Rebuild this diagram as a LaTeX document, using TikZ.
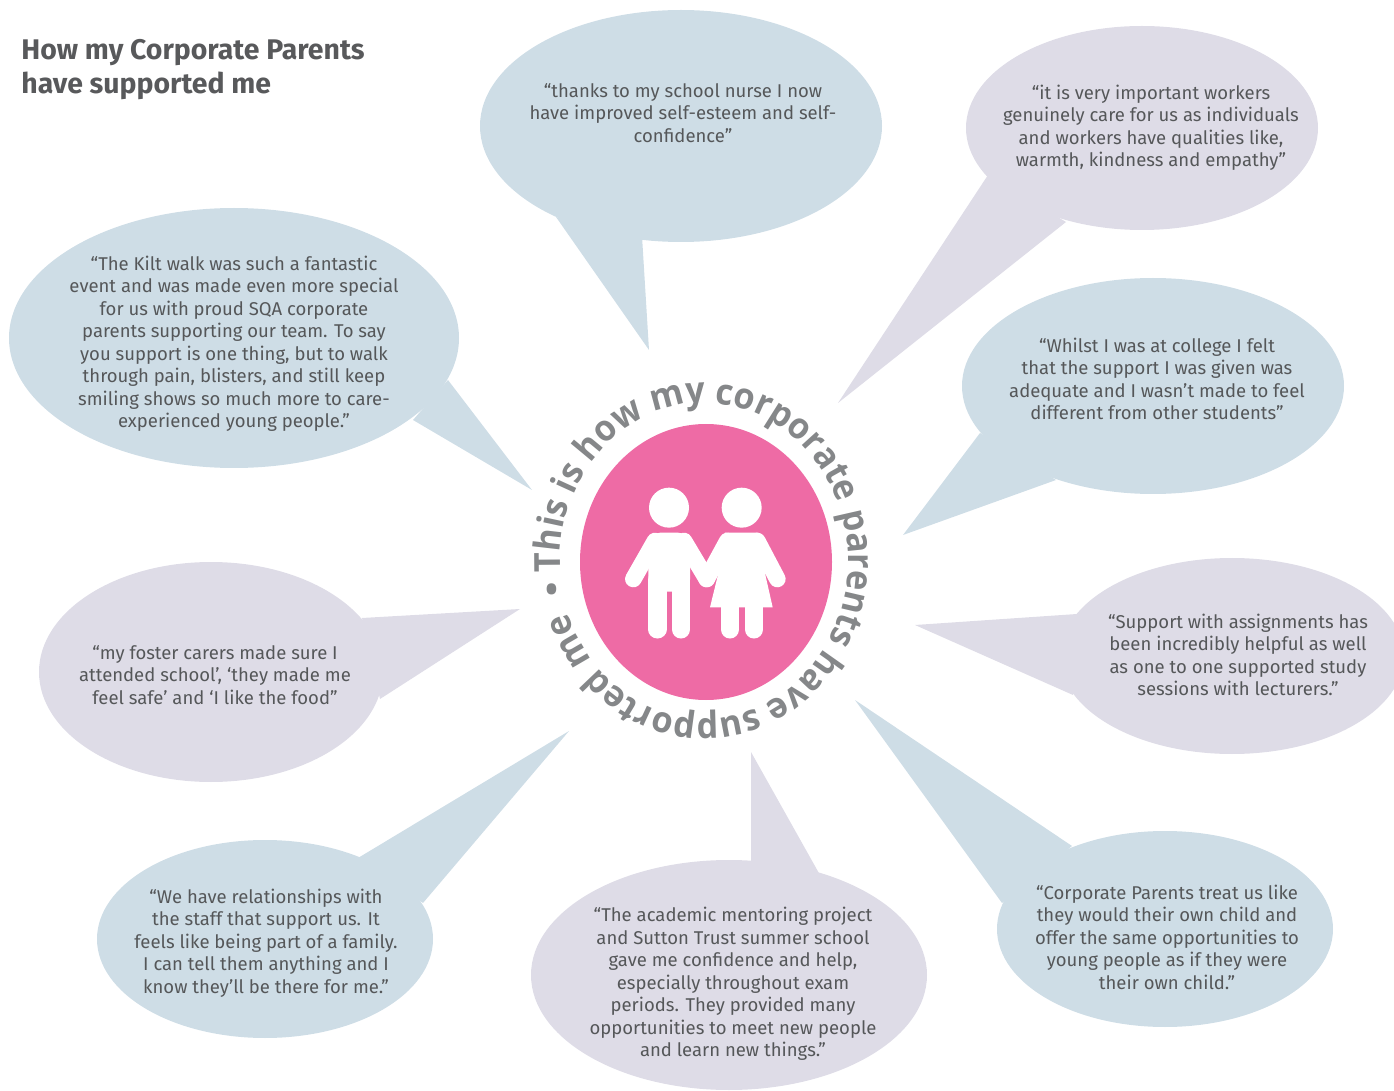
\documentclass[tikz,border=0pt]{standalone}
\usepackage{fontspec}
\usetikzlibrary{decorations.text}
\setmainfont{Fira Sans}
\newfontfamily\ringfont[FakeStretch=0.95]{Open Sans}
\definecolor{bluebub}{HTML}{CEDDE6}
\definecolor{lavbub}{HTML}{DEDCE7}
\definecolor{bodytext}{HTML}{555759}
\definecolor{titletext}{HTML}{58595B}
\definecolor{ringtext}{HTML}{858789}
\definecolor{pinkdisc}{HTML}{EE6BA5}
\tikzset{
  quote/.style={align=center,text=bodytext,font=\fontsize{9.25}{11.25}\selectfont,inner sep=0pt},
  figline/.style={draw=white,line cap=round,line join=round},
}
\begin{document}
\begin{tikzpicture}[x=0.5pt,y=-0.5pt]
\useasboundingbox (0,0) rectangle (1394,1091);
% bubbles
\fill[bluebub] (681,126) circle[x radius=201,y radius=116];
\fill[bluebub] (556,217) -- (649,350) -- (642,236) -- cycle;
\fill[lavbub] (1142,128) circle[x radius=176,y radius=102];
\fill[lavbub] (988,175) -- (838,403) -- (1066,222) -- cycle;
\fill[bluebub] (1153,386) circle[x radius=191,y radius=108];
\fill[bluebub] (980,433) -- (903,535) -- (1056,480) -- cycle;
\fill[lavbub] (1232,656) circle[x radius=172,y radius=98];
\fill[lavbub] (1077,614) -- (915,625) -- (1073,695) -- cycle;
\fill[bluebub] (1165,929) circle[x radius=168,y radius=98];
\fill[bluebub] (1072,846) -- (855,700) -- (1002,903) -- cycle;
\fill[lavbub] (729,975) circle[x radius=198,y radius=115];
\fill[lavbub] (751,865) -- (751,752) -- (820,875) -- cycle;
\fill[bluebub] (265,939) circle[x radius=168,y radius=99];
\fill[bluebub] (358,858) -- (569,731) -- (423,903) -- cycle;
\fill[lavbub] (211,672) circle[x radius=172,y radius=110];
\fill[lavbub] (362,618) -- (520,609) -- (380,699) -- cycle;
\fill[bluebub] (234,338) circle[x radius=225,y radius=130];
\fill[bluebub] (448,380) -- (532,490) -- (413,420) -- cycle;
% title
\node[anchor=west,inner sep=0pt,text=titletext,font=\bfseries\fontsize{14.2}{17}\selectfont,align=left] (title) at (21,70) {How my Corporate Parents\\have supported me};
% quotes
\node[quote] (q1) at (683,113) {“thanks to my school nurse I now\\have improved self-esteem and self-\\confidence”};
\node[quote] (q2) at (1151,128) {“it is very important workers\\genuinely care for us as individuals\\and workers have qualities like,\\warmth, kindness and empathy”};
\node[quote] (q3) at (1157,379) {“Whilst I was at college I felt\\that the support I was given was\\adequate and I wasn’t made to feel\\different from other students”};
\node[quote] (q4) at (1238,655) {“Support with assignments has\\been incredibly helpful as well\\as one to one supported study\\sessions with lecturers.”};
\node[quote] (q5) at (1167,937) {“Corporate Parents treat us like\\they would their own child and\\offer the same opportunities to\\young people as if they were\\their own child.”};
\node[quote] (q6) at (733,984) {“The academic mentoring project\\and Sutton Trust summer school\\gave me confidence and help,\\especially throughout exam\\periods. They provided many\\opportunities to meet new people\\and learn new things.”};
\node[quote] (q7) at (266,943) {“We have relationships with\\the staff that support us. It\\feels like being part of a family.\\I can tell them anything and I\\know they’ll be there for me.”};
\node[quote] (q8) at (215,675) {“my foster carers made sure I\\attended school’, ‘they made me\\feel safe’ and ‘I like the food”};
\node[quote] (q9) at (234,344) {“The Kilt walk was such a fantastic\\event and was made even more special\\for us with proud SQA corporate\\parents supporting our team. To say\\you support is one thing, but to walk\\through pain, blisters, and still keep\\smiling shows so much more to care-\\experienced young people.”};
% disc
\fill[pinkdisc] (706,562) circle[x radius=126,y radius=138];
% ring text
\path[decorate,decoration={text along path,text align={fit to path},
  text={|\ringfont\bfseries\fontsize{18}{18}\selectfont\color{ringtext}|This is how my corporate parents have supported me}}]
  (704,561) ++(176:144 and 158) arc[start angle=176,end angle=521,x radius=144,y radius=158];
\node[text=ringtext,font=\ringfont\bfseries\fontsize{18}{18}\selectfont,inner sep=0pt] (dot) at (552,593) {•};
% figures
\begin{scope}[shift={(510,360)},x=0.16667pt,y=-0.16667pt]
\fill[white] (477,443) circle[radius=60];
\fill[white] (695,443) circle[radius=60];
% boy
\draw[figline,line width=8.3pt] (435,543) -- (370,657);
\draw[figline,line width=8.3pt] (522,543) -- (590,657);
\fill[white,rounded corners=6pt] (415,518) -- (540,518) -- (540,695) -- (415,695) -- cycle;
\draw[figline,line width=9.2pt] (442,660) -- (442,808);
\draw[figline,line width=9.2pt] (513,660) -- (513,808);
% girl
\draw[figline,line width=8.3pt] (652,543) -- (590,657);
\draw[figline,line width=8.3pt] (742,543) -- (802,657);
\fill[white] (645,518) -- (745,518) -- (765,640) -- (788,742) -- (600,742) -- (625,640) -- cycle;
\draw[figline,line width=9.2pt] (660,730) -- (660,808);
\draw[figline,line width=9.2pt] (732,730) -- (732,808);
\end{scope}
\end{tikzpicture}
\end{document}
